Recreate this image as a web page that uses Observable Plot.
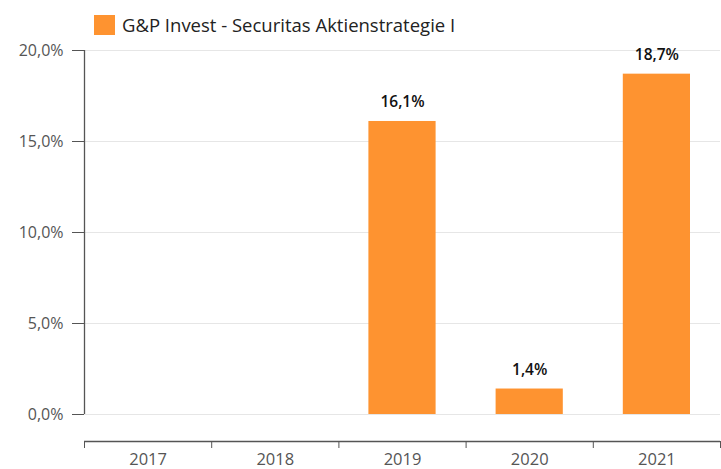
<!DOCTYPE html>
<html><head><meta charset="utf-8">
<script src="https://cdn.jsdelivr.net/npm/d3@7"></script>
<script src="https://cdn.jsdelivr.net/npm/@observablehq/plot@0.6"></script>
<style>
body{margin:0;background:#fff;font-family:"Open Sans",sans-serif;}
#wrap{position:relative;width:721px;height:469px;}
#legend{position:absolute;left:94px;top:12px;display:flex;align-items:center;font-size:18.5px;color:#222;}
#legend span.sw{display:inline-block;width:21px;height:20px;background:#fe9330;margin-right:7px;}
</style></head>
<body><div id="wrap"><div id="legend"><span class="sw"></span><span>G&amp;P Invest - Securitas Aktienstrategie I</span></div></div>
<script>
const years = ["2017","2018","2019","2020","2021"];
const values = [null, null, 16.1, 1.4, 18.7];
const labels = ["", "", "16,1%", "1,4%", "18,7%"];
const yTicks = [0, 5, 10, 15, 20];
const color = "#fe9330";

const data = years.map((y, i) => ({year: y, i, value: values[i], label: labels[i]}));
const bars = data.filter(d => d.value != null);
const fmt = v => v.toFixed(1).replace(".", ",") + "%";

const chart = Plot.plot({
  width: 721, height: 469,
  marginLeft: 84, marginRight: 1, marginTop: 50, marginBottom: 55,
  style: {fontFamily: "Open Sans, sans-serif", background: "transparent"},
  x: {type: "linear", domain: [0, years.length]},
  y: {domain: [0, 20]},
  marks: [
    Plot.ruleY(yTicks, {stroke: "#e6e6e6", strokeWidth: 1}),
    Plot.rectY(bars, {x1: d => d.i, x2: d => d.i + 1, y1: 0, y2: "value", fill: color, insetLeft: 30, insetRight: 30}),
    Plot.text(bars, {x: d => d.i + 0.5, y: "value", text: "label", dy: -19, fontSize: 15.5, fontWeight: 600, fill: "#111"}),
    Plot.ruleX([0], {y1: 0, y2: 20, stroke: "#555", strokeWidth: 1.3}),
    Plot.axisY({ticks: yTicks, tickFormat: fmt, tickSize: 12, tickPadding: 9, fontSize: 16, color: "#555", stroke: "#555", label: null}),
    Plot.ruleY([0], {dy: 27, stroke: "#555", strokeWidth: 1.3}),
    Plot.axisX({ticks: d3.range(years.length + 1), tickFormat: () => "", tickSize: 7, dy: 27, stroke: "#555", label: null}),
    Plot.axisX({ticks: years.map((y, i) => i + 0.5), tickFormat: v => years[Math.floor(v)], tickSize: 0, tickPadding: 12, dy: 27, fontSize: 16.5, color: "#555", label: null})
  ]
});
document.getElementById("wrap").appendChild(chart);
</script></body></html>
